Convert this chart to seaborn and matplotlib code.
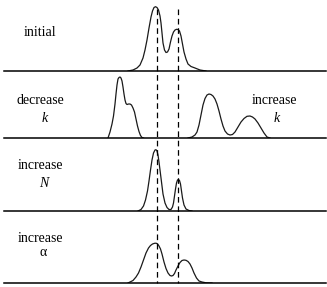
import matplotlib as mpl
mpl.use('Agg')
import matplotlib.pyplot as plt
import seaborn as sns

# curve samples: x position, height above the panel baseline
init_x = [128, 133, 137, 140, 143, 145, 147, 149, 151, 152.5, 154, 155.5, 157, 158.5, 160, 161, 162, 163,
          164.5, 166, 167.5, 169, 170.5, 172, 173.5, 175, 176.5, 178, 179.5, 181, 182.5, 184, 186, 188,
          191, 195, 200, 206]
init_h = [0, 1, 3, 6, 13, 21, 31, 43, 54, 60, 63.5, 64.3, 63.5, 61, 55, 48, 38, 28,
          21, 18.5, 19, 22, 29, 35, 39, 41, 41.7, 41.5, 40, 35, 27, 19, 12, 7,
          4.5, 3, 1, 0]

deck_x = [108, 110, 112, 113.5, 115, 116, 117, 118, 119, 120, 121, 122, 123, 124, 125, 126, 127, 128.5,
          130, 131.5, 133, 134.5, 136, 137.5, 139, 140.5, 142, 143.5]
deck_h = [0, 6, 14, 22, 34, 44, 53, 59, 60.5, 61, 60, 57, 51, 44, 38, 34.5, 33.5, 34,
          34, 33, 30, 26, 19, 12, 6.5, 2.5, 0.5, 0]

inck_x = [188, 192, 195, 197, 199, 201, 203, 205, 207, 209, 211, 213, 215, 217, 219, 221, 223, 225,
          227.5, 230, 232.5, 235, 238, 241, 244, 247, 250, 252.5, 255, 258, 261, 264, 267, 270]
inck_h = [0, 1, 3, 6, 13, 23, 33, 39.5, 43, 44, 43.5, 42, 39, 34, 27, 19, 12, 7,
          4, 3, 3.5, 6, 11, 16, 19.5, 21.7, 22, 21, 19, 15, 10, 5, 1, 0]

incn_x = [138, 141, 143.5, 145.5, 147.5, 149, 150.5, 152, 153.5, 155, 156, 157, 158, 159, 160, 161.5,
          163, 165, 167, 169, 171, 172.5, 173.5, 174.5, 175.5, 176.5, 177.5, 178.5, 179.5, 180.5, 181.5,
          182.5, 184, 186, 189, 192]
incn_h = [0, 1.5, 5, 11, 20, 30, 41, 51, 58, 61, 61.3, 60, 56, 49, 41, 29,
          17, 8, 3.5, 1.5, 1.5, 4, 8, 15, 22, 28, 31, 31.5, 30.5, 27, 20,
          13, 6, 2, 0.5, 0]

inca_x = [128, 133, 136, 138.5, 141, 143.5, 146, 148.5, 150.5, 152.5, 154.5, 156, 157.5, 159, 160.5, 162,
          164, 166, 168, 170, 171.5, 173, 174.5, 176, 178, 180, 182, 184, 186, 188, 190, 192, 194,
          196.5, 199, 202, 206, 212]
inca_h = [0, 2.5, 6, 10, 16, 23, 30, 35, 37.5, 39, 39.7, 39.8, 39.2, 37, 34, 29,
          21, 14.5, 10, 7.5, 7, 7.5, 9.5, 13, 17, 20.5, 22.5, 23, 22.7, 21.5, 19, 15, 10,
          5, 2, 1, 0.2, 0]

peak_positions = [156.5, 178.3]

W, H = 327, 287
panel_edges = [0, 71, 138, 211, 283]  # pixel rows of the separator lines

fig = plt.figure(figsize=(W / 100, H / 100), dpi=100)
serif = ['Liberation Serif', 'DejaVu Serif']

panels = [
    ([(init_x, init_h)], [('initial', 40, 38, 'normal')]),
    ([(deck_x, deck_h), (inck_x, inck_h)],
     [('decrease', 40, 38, 'normal'), ('k', 45, 20, 'italic'),
      ('increase', 274, 38, 'normal'), ('k', 277, 20, 'italic')]),
    ([(incn_x, incn_h)], [('increase', 40, 45, 'normal'), ('N', 43.5, 27, 'italic')]),
    ([(inca_x, inca_h)], [('increase', 40, 45, 'normal'), ('α', 43.5, 30, 'normal')]),
]

for i, (curves, labels) in enumerate(panels):
    top, bot = panel_edges[i], panel_edges[i + 1]
    ax = fig.add_axes([0, 1 - bot / H, 1, (bot - top) / H])
    ax.set_xlim(0, W)
    ax.set_ylim(0, bot - top)
    ax.axis('off')
    for cx, ch in curves:
        sns.lineplot(x=cx, y=ch, ax=ax, color='#1a1a1a', linewidth=0.9, sort=False, estimator=None)
    ax.axhline(0, xmin=4 / W, xmax=326 / W, color='black', linewidth=1.1, clip_on=False)
    for txt, tx, ty, st in labels:
        ax.text(tx, ty, txt, ha='center', va='center', fontsize=10, family=serif, style=st)

# dashed markers across all panels
ov = fig.add_axes([0, 0, 1, 1])
ov.set_xlim(0, W)
ov.set_ylim(H, 0)
ov.axis('off')
ov.patch.set_alpha(0)
ov.vlines(peak_positions, 9, 283, colors='black', linewidth=0.9, linestyles=(0, (4.5, 3)))

fig.savefig('out.png', dpi=100)
